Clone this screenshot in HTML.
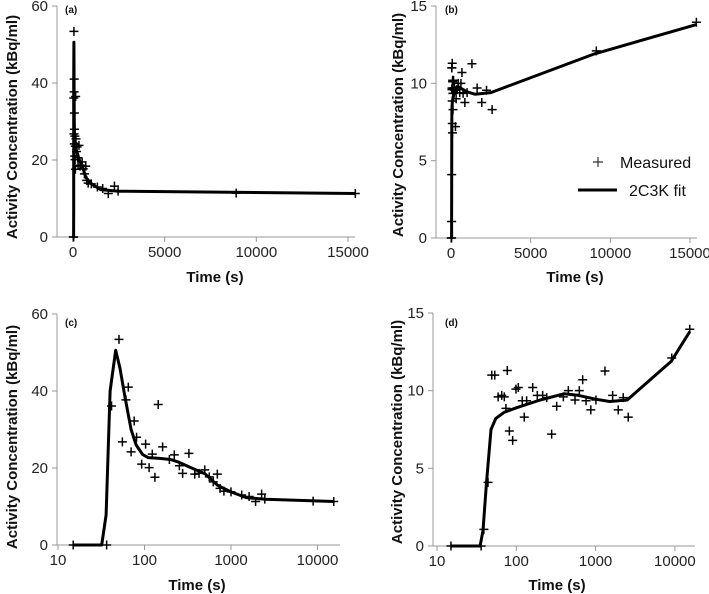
<!DOCTYPE html>
<html><head><meta charset="utf-8"><style>
body{margin:0;background:#fff;}
svg{display:block;font-family:"Liberation Sans",Arial,sans-serif;}
.tk{font-size:15px;fill:#222;}
.tt{font-size:15px;font-weight:bold;fill:#111;}
.pl{font-size:10px;font-weight:bold;fill:#111;}
</style></head><body>
<svg id="chart" width="709" height="594" viewBox="0 0 709 594"></svg>
<script>
// Dataset 1 (panels a, c)
const times1 = [15,36.5,41.6,50.7,55.5,61,65,70,76,81,92.7,103,113,123,132,144,162,194,221,253,276,326,381,427,497,561,624,695,747,828,1000,1330,1620,1925,2260,2460,8900,15400];
const vals1 = [0,0,36.1,53.4,26.8,37.7,41,24.2,32.2,28,21,26.2,20.1,23.6,17.6,36.5,25.5,22.2,23.4,20.6,18.6,23.8,18.4,18.6,19.5,17.7,16.4,18.4,14.7,14.0,13.8,13.0,12.6,11.3,13.2,11.9,11.4,11.3];
const fitT1 = [15,32,36,40,46.4,52,60,70,80,95,110,150,200,250,350,500,700,1000,1500,2500,15400];
const fitV1 = [0,0,7.8,40,50.6,46,38,30,26,23.5,22.7,22.5,22.2,21.5,20,18.5,15.5,13.8,12.3,11.9,11.3];
// Dataset 2 (panels b, d)
const times2 = [15,36,39,44,49,53.5,59,65.5,70.6,74,77,81.7,90,99,106,119,126,135,161,184,215,242,279,323,392,453,550,623,687,758,870,1010,1313,1640,1930,2230,2580,9120,15400];
const vals2 = [0,0,1.07,4.1,11.0,11.0,9.6,9.7,9.6,8.86,11.3,7.4,6.8,10.1,10.2,9.35,8.3,9.35,10.2,9.7,9.7,9.55,7.2,9.0,9.6,10.0,9.4,10.0,10.7,9.35,8.76,9.4,11.27,9.7,8.76,9.55,8.3,12.1,13.95];
const fitT2 = [15,35,38,42,48,55,70,100,200,400,600,1000,1500,2500,9000,15400];
const fitV2 = [0,0,1,4,7.5,8.2,8.6,8.9,9.4,9.8,9.7,9.45,9.3,9.4,11.9,13.8];
const linTicks = [0,5000,10000,15000];
const logTicks = [10,100,1000,10000];
const yTicksA = [0,20,40,60];
const yTicksB = [0,5,10,15];

const svg=document.getElementById('chart');
const NS='http://www.w3.org/2000/svg';
function mk(tag,attrs,parent){const e=document.createElementNS(NS,tag);for(const k in attrs)e.setAttribute(k,attrs[k]);(parent||svg).appendChild(e);return e;}

const panels=[
 {id:'a',ax:57,x0:73,x1:348,xe:355,yTop:6,yBot:237,ymax:60,log:false,T:times1,V:vals1,FT:fitT1,FV:fitV1,yt:yTicksA,tx:215,ty:277,yx:12,yc:127,lbl:[65,13]},
 {id:'b',ax:436,x0:451,x1:690,xe:697,yTop:6,yBot:238,ymax:15,log:false,T:times2,V:vals2,FT:fitT2,FV:fitV2,yt:yTicksB,tx:575,ty:277,yx:398,yc:125,lbl:[445,13]},
 {id:'c',ax:57,x0:58,dec:86.5,xe:340,yTop:314,yBot:545,ymax:60,log:true,T:times1,V:vals1,FT:fitT1,FV:fitV1,yt:yTicksA,tx:197,ty:585,yx:12,yc:437,lbl:[65,326]},
 {id:'d',ax:433,x0:437,dec:79.3,xe:695,yTop:313,yBot:546,ymax:15,log:true,T:times2,V:vals2,FT:fitT2,FV:fitV2,yt:yTicksB,tx:557,ty:585,yx:397,yc:432,lbl:[445,326]}
];

panels.forEach(p=>{
 const g=mk('g',{});
 
 
 const sx=p.log?(t=>p.x0+(Math.log10(t)-1)*p.dec):(t=>p.x0+t/15000*(p.x1-p.x0));
 const sy=v=>p.yBot-v/p.ymax*(p.yBot-p.yTop);
 const ya=mk('line',{x1:p.ax,y1:p.yTop,x2:p.ax,y2:p.yBot,stroke:'#999','stroke-width':1},g);
 
 
 const xa=mk('line',{x1:p.ax,y1:p.yBot,x2:p.xe,y2:p.yBot,stroke:'#999','stroke-width':1},g);
 
 
 p.yt.forEach(v=>{
  mk('line',{x1:p.ax-5,y1:sy(v),x2:p.ax,y2:sy(v),stroke:'#999'},g);
  const t=mk('text',{x:p.ax-9,y:sy(v)+5,'text-anchor':'end',class:'tk'},g);t.textContent=v;
  
  
 });
 (p.log?logTicks:linTicks).forEach(v=>{
  const x=sx(v);
  mk('line',{x1:x,y1:p.yBot,x2:x,y2:p.yBot+5,stroke:'#999'},g);
  const t=mk('text',{x:x,y:p.yBot+20,'text-anchor':'middle',class:'tk'},g);t.textContent=v;
  
  
 });
 const xt=mk('text',{x:p.tx,y:p.ty+5,'text-anchor':'middle',class:'tt'},g);xt.textContent='Time (s)';
 
 
 const yt=mk('text',{x:0,y:0,'text-anchor':'middle',class:'tt',transform:`translate(${p.yx+5},${p.yc}) rotate(-90)`},g);yt.textContent='Activity Concentration (kBq/ml)';
 
 
 const pl=mk('text',{x:p.lbl[0],y:p.lbl[1],class:'pl'},g);pl.textContent='('+p.id+')';
 
 
 let d='';
 p.FT.forEach((t,i)=>{d+=(i?'L':'M')+sx(t).toFixed(1)+','+sy(p.FV[i]).toFixed(1);});
 const fl=mk('path',{d:d,fill:'none',stroke:'#000','stroke-width':3,'stroke-linejoin':'round'},g);
 
 
 p.T.forEach((t,i)=>{
  const x=sx(t),y=sy(p.V[i]);
  const m=mk('path',{d:`M${x-4.5},${y}H${x+4.5}M${x},${y-4.5}V${y+4.5}`,stroke:'#000','stroke-width':1.5},g);
  
  
 });
});
const lg=mk('g',{});


mk('path',{d:'M593,162H603M598,157V167',stroke:'#333','stroke-width':1.2},lg);
const l1=mk('text',{x:620,y:168,style:'font-size:16px;fill:#111'},lg);l1.textContent='Measured';


mk('line',{x1:578,y1:190,x2:617,y2:190,stroke:'#000','stroke-width':3},lg);
const l2=mk('text',{x:629,y:196,style:'font-size:16px;fill:#111'},lg);l2.textContent='2C3K fit';


</script>
</body></html>
